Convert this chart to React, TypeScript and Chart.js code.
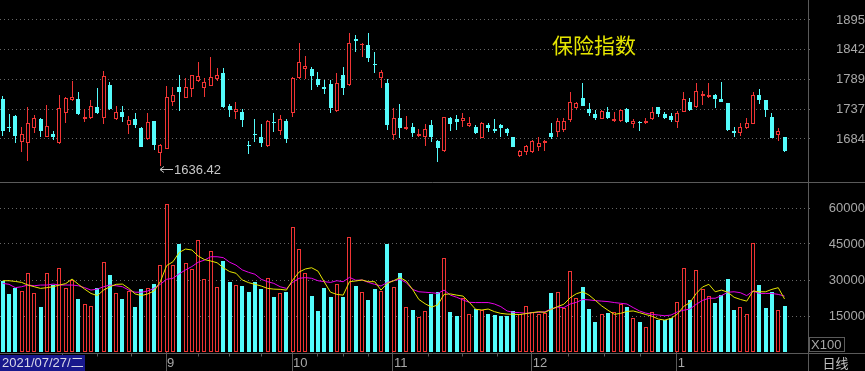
import React, { useEffect, useRef } from "react";
import { Chart, registerables } from "chart.js";

Chart.register(...registerables);

// ---------- data ----------
const TITLE = "保险指数";
const DATE_LABEL = "2021/07/27/二";
const PERIOD_LABEL = "日线";
const VOL_UNIT = "X100";

const OPEN = [
  1754.5, 1706.1, 1725.0, 1679.5, 1677.8, 1703.2, 1719.7, 1688.4, 1692.5, 1676.6,
  1729.7, 1753.4, 1754.5, 1720.3, 1720.9, 1740.4, 1720.9, 1779.9, 1719.7, 1732.7,
  1709.1, 1719.1, 1703.2, 1683.7, 1716.1, 1658.9, 1666.5, 1749.2, 1775.8, 1757.5,
  1772.2, 1787.6, 1775.2, 1778.7, 1790.5, 1801.8, 1743.3, 1732.1, 1732.1, 1673.6,
  1693.1, 1688.4, 1671.9, 1715.0, 1699.0, 1716.1, 1729.7, 1791.7, 1807.7, 1808.3,
  1790.0, 1775.8, 1781.7, 1734.5, 1797.6, 1779.9, 1860.8, 1850.7, 1850.8, 1817.1,
  1791.7, 1782.9, 1691.3, 1720.9, 1701.4, 1704.9, 1689.6, 1687.2, 1708.5, 1681.3,
  1663.0, 1721.5, 1719.1, 1716.1, 1707.3, 1706.1, 1686.6, 1709.1, 1701.4, 1709.1,
  1701.4, 1687.2, 1654.7, 1660.6, 1660.6, 1670.7, 1676.6, 1695.5, 1697.3, 1700.2,
  1717.9, 1738.6, 1756.3, 1737.4, 1728.0, 1719.7, 1732.7, 1715.6, 1715.6, 1737.4,
  1710.8, 1715.0, 1712.0, 1719.1, 1740.4, 1728.5, 1725.0, 1715.0, 1732.7, 1750.4,
  1740.4, 1760.5, 1758.1, 1762.2, 1755.1, 1748.0, 1698.4, 1694.3, 1703.2, 1710.8,
  1762.2, 1753.4, 1723.8, 1691.3, 1687.2,
];
const HIGH = [
  1760.4, 1728.0, 1726.8, 1706.1, 1740.4, 1726.8, 1720.9, 1744.5, 1698.4, 1762.2,
  1759.3, 1787.6, 1768.1, 1737.4, 1753.4, 1774.0, 1804.7, 1784.6, 1742.7, 1742.7,
  1725.0, 1729.7, 1704.9, 1729.7, 1716.7, 1675.4, 1778.2, 1775.8, 1797.6, 1791.7,
  1797.6, 1821.3, 1792.9, 1830.1, 1809.4, 1810.6, 1745.7, 1750.4, 1736.8, 1681.3,
  1719.7, 1710.2, 1717.9, 1729.7, 1726.8, 1719.1, 1793.5, 1853.7, 1831.9, 1812.4,
  1802.4, 1788.8, 1788.8, 1800.6, 1812.4, 1871.5, 1868.5, 1853.7, 1871.5, 1839.0,
  1806.5, 1790.5, 1738.6, 1746.3, 1725.0, 1712.0, 1701.4, 1710.2, 1717.9, 1682.5,
  1723.8, 1722.6, 1726.8, 1729.7, 1723.8, 1709.1, 1715.0, 1712.0, 1719.7, 1710.8,
  1703.2, 1688.4, 1664.8, 1673.6, 1682.5, 1687.2, 1682.5, 1712.0, 1722.1, 1720.9,
  1768.1, 1750.4, 1784.1, 1747.5, 1735.6, 1735.6, 1740.4, 1732.7, 1736.8, 1738.6,
  1719.1, 1716.7, 1720.9, 1740.4, 1741.5, 1732.7, 1730.9, 1733.9, 1768.1, 1756.3,
  1784.1, 1769.9, 1782.9, 1763.4, 1785.8, 1748.6, 1704.9, 1712.0, 1720.9, 1768.1,
  1772.2, 1753.8, 1729.7, 1704.3, 1688.4,
];
const LOW = [
  1689.6, 1697.3, 1676.6, 1661.8, 1645.3, 1694.3, 1688.4, 1687.5, 1682.5, 1675.4,
  1713.2, 1752.2, 1726.8, 1715.0, 1719.7, 1728.5, 1710.8, 1735.6, 1717.9, 1715.0,
  1693.1, 1703.2, 1669.5, 1682.5, 1664.8, 1636.42, 1666.0, 1742.7, 1734.5, 1756.3,
  1759.3, 1785.8, 1759.3, 1778.1, 1787.0, 1738.6, 1723.8, 1719.1, 1706.1, 1657.7,
  1679.5, 1670.7, 1670.7, 1697.3, 1691.3, 1677.8, 1723.8, 1790.5, 1790.0, 1771.1,
  1775.8, 1764.0, 1729.7, 1732.7, 1762.2, 1779.0, 1837.8, 1828.9, 1821.3, 1800.6,
  1774.0, 1700.2, 1682.5, 1685.4, 1700.2, 1688.4, 1687.2, 1672.5, 1679.5, 1644.1,
  1661.8, 1698.4, 1700.2, 1706.1, 1706.1, 1692.5, 1685.4, 1697.3, 1694.3, 1688.4,
  1689.6, 1670.1, 1653.0, 1656.0, 1660.0, 1663.6, 1663.6, 1683.7, 1687.2, 1697.3,
  1715.0, 1738.0, 1742.0, 1725.0, 1717.9, 1719.1, 1719.1, 1715.0, 1715.0, 1713.2,
  1703.2, 1699.0, 1710.8, 1717.9, 1722.6, 1719.7, 1715.0, 1703.2, 1731.5, 1734.5,
  1738.6, 1744.5, 1756.3, 1738.6, 1750.0, 1699.0, 1687.2, 1689.6, 1702.6, 1710.2,
  1745.7, 1723.8, 1685.4, 1681.3, 1661.8,
];
const CLOSE = [
  1699.0, 1703.7, 1690.2, 1692.5, 1712.0, 1722.1, 1699.0, 1707.9, 1687.2, 1738.6,
  1756.3, 1758.7, 1728.0, 1723.8, 1742.7, 1729.7, 1795.9, 1737.4, 1732.7, 1723.8,
  1717.9, 1708.5, 1670.7, 1713.8, 1673.6, 1673.6, 1758.1, 1762.2, 1768.1, 1775.8,
  1797.0, 1795.9, 1785.8, 1794.7, 1797.6, 1741.5, 1735.6, 1736.8, 1717.9, 1672.5,
  1690.8, 1677.8, 1715.6, 1713.2, 1719.7, 1683.7, 1792.9, 1820.1, 1814.2, 1795.9,
  1779.9, 1772.8, 1738.6, 1782.9, 1774.0, 1854.9, 1858.5, 1852.5, 1827.2, 1815.4,
  1803.5, 1709.1, 1720.9, 1703.2, 1706.1, 1694.3, 1693.1, 1702.6, 1688.4, 1667.8,
  1722.6, 1710.8, 1714.4, 1720.9, 1712.0, 1694.3, 1712.0, 1703.2, 1699.0, 1703.2,
  1694.3, 1670.7, 1663.6, 1672.5, 1680.7, 1677.8, 1681.3, 1687.2, 1716.1, 1716.7,
  1750.4, 1747.5, 1742.7, 1730.9, 1720.9, 1734.5, 1720.9, 1719.1, 1735.6, 1715.0,
  1716.1, 1712.0, 1716.7, 1732.7, 1728.5, 1720.9, 1717.9, 1730.9, 1754.5, 1735.6,
  1769.9, 1764.0, 1762.2, 1754.5, 1750.4, 1700.2, 1694.3, 1704.9, 1712.0, 1762.2,
  1753.4, 1735.6, 1686.6, 1699.0, 1663.0,
];
const VOLUME = [
  29600, 24000, 26500, 25400, 32900, 24400, 18900, 32900, 27900, 34900,
  26500, 30000, 22100, 19900, 19300, 26500, 37400, 32100, 24400, 22100,
  25400, 18900, 26100, 26500, 28200, 36200, 61500, 36200, 44900, 36900,
  34400, 46700, 30300, 42100, 27100, 37900, 29300, 27900, 27600, 24900,
  29000, 26200, 30700, 23100, 24400, 24900, 51900, 42900, 32800, 23500,
  17100, 26500, 23100, 28300, 23100, 47800, 27600, 25100, 21700, 26200,
  25400, 44900, 26900, 33100, 18700, 17500, 14700, 17100, 24000, 24900,
  39000, 16800, 15000, 22400, 15700, 17900, 17500, 15800, 15400, 15000,
  15000, 17100, 15700, 19300, 16500, 15800, 16100, 24400, 24900, 18200,
  33700, 22600, 26900, 17900, 12600, 15700, 16100, 16500, 19900, 18600,
  14300, 12600, 10600, 16500, 13300, 13300, 14300, 21000, 34900, 21700,
  34200, 26200, 23300, 20300, 23700, 30300, 17500, 18600, 15700, 45600,
  27900, 18500, 25100, 17500, 19300,
];
const MA5 = [
  29700, 29700, 29400, 29000, 27900, 27200, 26500, 26800, 27200, 27900,
  28500, 30400, 28200, 26200, 24400, 23500, 25800, 27200, 28200, 28300,
  26500, 24200, 23500, 24200, 25400, 29300, 36000, 37600, 41500, 42900,
  42500, 40000, 38500, 37900, 37200, 35100, 33500, 32800, 30000, 28900,
  28200, 27500, 26500, 26200, 26100, 25800, 30000, 33300, 34600, 35100,
  33700, 29200, 24900, 24000, 23700, 29300, 29600, 30000, 29300, 29300,
  25800, 28600, 29700, 31000, 29600, 26100, 21900, 20100, 18700, 19600,
  24000, 24200, 23700, 23300, 20700, 17800, 17500, 17900, 16800, 16100,
  15800, 15700, 15600, 16000, 16400, 16800, 16500, 17800, 18900, 19900,
  22600, 24300, 25100, 23700, 21500, 19200, 17400, 15700, 16100, 16900,
  17100, 16400, 15600, 14900, 13700, 13300, 14000, 15800, 19000, 20600,
  24400, 27100, 28200, 25100, 25800, 24900, 22800, 21900, 21200, 25400,
  25100, 25100, 26100, 26800, 22100,
];
const MA10 = [
  28600, 28200, 26800, 27200, 27900, 27600, 27900, 27900, 28300, 27900,
  27900, 27900, 27600, 26800, 25800, 26200, 27200, 27900, 27600, 27200,
  25800, 24900, 24900, 25400, 26500, 28200, 30300, 30700, 32600, 34200,
  35600, 37400, 38300, 39700, 39700, 39300, 37400, 36200, 34200, 33200,
  32400, 30300, 29300, 28600, 27200, 26500, 29000, 30700, 31000, 30700,
  29700, 29300, 29000, 29700, 29300, 31100, 29900, 30000, 29000, 28200,
  27500, 29000, 29700, 30300, 28900, 26100, 25100, 24900, 24700, 24400,
  25800, 23700, 22800, 21700, 20700, 20600, 20600, 20600, 20000, 18900,
  17100, 16500, 16400, 16100, 16400, 16500, 16800, 17900, 18700, 18500,
  20000, 20700, 21900, 21700, 21400, 21200, 21000, 20600, 20300, 20000,
  18500, 17100, 16200, 15700, 15400, 15100, 15400, 16700, 17400, 17900,
  19900, 21500, 22400, 22400, 23500, 24900, 25100, 24700, 23500, 25400,
  24400, 24400, 24400, 24000, 23300,
];

const PRICE_TICKS = [1684.3, 1737.0, 1789.7, 1842.4, 1895.1];
const PRICE_LABELS = ["1684", "1737", "1789", "1842", "1895"];
const VOL_TICKS = [15000, 30000, 45000, 60000];
const VOL_LABELS = ["15000", "30000", "45000", "60000"];
const MONTH_START = [25.9, 45.9, 61.9, 83.9, 106.9];
const MONTH_LABELS = ["9", "10", "11", "12", "1"];
const MINOR_TICKS = [9.4, 14.9, 20.4, 30.9, 35.9, 40.9, 49.9, 53.9, 57.9, 67.4, 72.9, 78.4, 89.65, 95.4, 101.15];

// ---------- style ----------
const RED = "#f03434";
const CYAN = "#54fcfc";
const YELLOW = "#e6e600";
const MAGENTA = "#e600e6";
const GRID = "#666666";
const FRAME = "#5a5a5a";
const AXIS_TEXT = "#a8a8a8";
const FONT = '"Liberation Sans", Arial, "Noto Sans CJK SC", sans-serif';
const CJK = '"Noto Sans CJK SC", "Liberation Sans", sans-serif';

const X_MIN = -0.428;
const X_MAX = 127.72;
const P_MIN = 1608.1;
const P_MAX = 1930.5;
const V_MAX = 70000;

// snap bar elements to whole pixels so 1px borders / wicks stay crisp
const snapPlugin = {
  id: "snapBars",
  beforeDatasetsDraw(chart: any) {
    chart.getSortedVisibleDatasetMetas().forEach((meta: any) => {
      if (meta.type !== "bar") return;
      meta.data.forEach((el: any) => {
        const w = el.width;
        el.x = Math.round(el.x - w / 2) + w / 2;
        el.y = Math.round(el.y);
        el.base = Math.round(el.base);
        if (Math.abs(el.base - el.y) < 1) el.y = el.base - 1;
      });
    });
  },
};

export default function App() {
  const priceRef = useRef<HTMLCanvasElement>(null);
  const volRef = useRef<HTMLCanvasElement>(null);

  useEffect(() => {
    document.body.style.margin = "0";
    document.body.style.background = "#000";
    const idx = OPEN.map((_, i) => i);
    const up = idx.map((i) => CLOSE[i] >= OPEN[i]);

    const lowIdx = LOW.indexOf(Math.min(...LOW));

    const pricePlugin = {
      id: "priceDecor",
      afterDraw(chart: any) {
        const { ctx } = chart;
        const xs = chart.scales.x;
        const ys = chart.scales.y;
        ctx.save();
        ctx.fillStyle = YELLOW;
        ctx.font = "21px " + CJK;
        ctx.textAlign = "left";
        ctx.textBaseline = "middle";
        ctx.fillText(TITLE, 552, 45);
        // lowest point marker: arrow + value
        const lx = Math.round(xs.getPixelForValue(lowIdx));
        const ly = Math.round(ys.getPixelForValue(LOW[lowIdx])) + 3.5;
        ctx.strokeStyle = "#c8c8c8";
        ctx.lineWidth = 1;
        ctx.beginPath();
        ctx.moveTo(lx, ly);
        ctx.lineTo(lx + 13, ly);
        ctx.moveTo(lx + 4, ly - 3);
        ctx.lineTo(lx, ly);
        ctx.lineTo(lx + 4, ly + 3);
        ctx.stroke();
        ctx.fillStyle = "#c8c8c8";
        ctx.font = "13px " + FONT;
        ctx.fillText(LOW[lowIdx].toFixed(2), lx + 14, ly + 0.5);
        ctx.restore();
      },
    };

    const pc = new Chart(priceRef.current as HTMLCanvasElement, {
      type: "bar",
      data: {
        datasets: [
          {
            label: "body",
            data: idx.map((i) => ({ x: i, y: [Math.min(OPEN[i], CLOSE[i]), Math.max(OPEN[i], CLOSE[i])] })) as any,
            backgroundColor: idx.map((i) => (up[i] ? "#000000" : CYAN)),
            borderColor: idx.map((i) => (up[i] ? RED : CYAN)),
            borderWidth: idx.map((i) => (up[i] ? 1 : 0)),
            borderSkipped: false,
            barThickness: 4,
            grouped: false,
            inflateAmount: 0,
            order: 1,
          } as any,
          {
            label: "wick",
            data: idx.map((i) => ({ x: i, y: [LOW[i], HIGH[i]] })) as any,
            backgroundColor: idx.map((i) => (up[i] ? RED : CYAN)),
            borderWidth: 0,
            barThickness: 1,
            grouped: false,
            inflateAmount: 0,
            order: 2,
          } as any,
        ],
      },
      options: {
        animation: false,
        responsive: false,
        maintainAspectRatio: false,
        events: [],
        layout: { padding: 0 },
        plugins: { legend: { display: false }, tooltip: { enabled: false }, title: { display: false } },
        scales: {
          x: { type: "linear", min: X_MIN, max: X_MAX, display: false, offset: false, grid: { offset: false } },
          y: {
            type: "linear",
            position: "right",
            min: P_MIN,
            max: P_MAX,
            afterBuildTicks: (s: any) => {
              s.ticks = PRICE_TICKS.map((v) => ({ value: v }));
            },
            afterFit: (s: any) => {
              s.width = 57;
              s.paddingTop = 0;
              s.paddingBottom = 0;
            },
            ticks: {
              autoSkip: false,
              callback: (_v: any, i: number) => PRICE_LABELS[i],
              color: AXIS_TEXT,
              font: { family: FONT, size: 13 },
              padding: 15,
              crossAlign: "far",
            },
            grid: { color: GRID, lineWidth: 1, drawTicks: true, tickLength: 5, tickColor: GRID, tickBorderDash: [1, 3], borderDash: [1, 3] },
            border: { display: true, color: FRAME, width: 1, dash: [1, 3] },
          } as any,
        },
      } as any,
      plugins: [snapPlugin, pricePlugin],
    });

    const volPlugin = {
      id: "volDecor",
      afterDraw(chart: any) {
        const { ctx, chartArea } = chart;
        const W = chart.width;
        const H = chart.height;
        const xs = chart.scales.x;
        ctx.save();
        ctx.strokeStyle = FRAME;
        ctx.lineWidth = 1;
        const line = (x1: number, y1: number, x2: number, y2: number) => {
          ctx.beginPath();
          ctx.moveTo(x1, y1);
          ctx.lineTo(x2, y2);
          ctx.stroke();
        };
        line(0, 0.5, W, 0.5);
        const sy = Math.round(chartArea.bottom) + 1.5;
        line(0, sy, W, sy);
        const ax = Math.round(chartArea.right) + 0.5;
        line(ax, 0, ax, H);
        MINOR_TICKS.forEach((v) => {
          const x = Math.round(xs.getPixelForValue(v)) + 0.5;
          line(x, sy, x, sy + 3);
        });
        // unit box
        ctx.strokeRect(ax + 1, Math.round(chartArea.bottom) - 14.5, 35, 14);
        ctx.fillStyle = AXIS_TEXT;
        ctx.font = "13px " + FONT;
        ctx.textAlign = "left";
        ctx.textBaseline = "middle";
        ctx.fillText(VOL_UNIT, ax + 2.5, Math.round(chartArea.bottom) - 7);
        // period label
        ctx.fillStyle = "#c0c0c0";
        ctx.font = "13px " + CJK;
        ctx.fillText(PERIOD_LABEL, ax + 14, (sy + H) / 2 + 1);
        // date box
        ctx.fillStyle = "#18188c";
        ctx.fillRect(0, sy + 1.5, 85, H - sy);
        ctx.fillStyle = "#d8d8e8";
        ctx.font = "13px " + FONT;
        ctx.fillText(DATE_LABEL, 2, (sy + H) / 2 + 1.5);
        ctx.restore();
      },
    };

    const vc = new Chart(volRef.current as HTMLCanvasElement, {
      type: "bar",
      data: {
        datasets: [
          {
            type: "line",
            label: "MA5",
            data: idx.map((i) => ({ x: i, y: MA5[i] })),
            borderColor: YELLOW,
            borderWidth: 1,
            pointRadius: 0,
            tension: 0,
            order: 0,
          } as any,
          {
            type: "line",
            label: "MA10",
            data: idx.map((i) => ({ x: i, y: MA10[i] })),
            borderColor: MAGENTA,
            borderWidth: 1,
            pointRadius: 0,
            tension: 0,
            order: 0,
          } as any,
          {
            type: "bar",
            label: "VOL",
            data: idx.map((i) => ({ x: i, y: VOLUME[i] })),
            backgroundColor: idx.map((i) => (up[i] ? "#000000" : CYAN)),
            borderColor: idx.map((i) => (up[i] ? RED : CYAN)),
            borderWidth: idx.map((i) => (up[i] ? 1 : 0)),
            borderSkipped: false,
            barThickness: 4,
            grouped: false,
            inflateAmount: 0,
            order: 1,
          } as any,
        ],
      },
      options: {
        animation: false,
        responsive: false,
        maintainAspectRatio: false,
        events: [],
        layout: { padding: { top: 2, left: 0, right: 0, bottom: 0 } },
        plugins: { legend: { display: false }, tooltip: { enabled: false }, title: { display: false } },
        scales: {
          x: {
            type: "linear",
            position: "bottom",
            min: X_MIN,
            max: X_MAX,
            offset: false,
            afterBuildTicks: (s: any) => {
              s.ticks = MONTH_START.map((v) => ({ value: v }));
            },
            afterFit: (s: any) => {
              s.height = 19;
              s.paddingLeft = 0;
              s.paddingRight = 0;
            },
            ticks: {
              autoSkip: false,
              maxRotation: 0,
              minRotation: 0,
              align: "start",
              labelOffset: 1,
              padding: -15,
              callback: (_v: any, i: number) => MONTH_LABELS[i],
              color: AXIS_TEXT,
              font: { family: FONT, size: 13 },
            },
            grid: { offset: false, drawOnChartArea: false, drawTicks: true, tickLength: 19, color: FRAME, tickColor: FRAME },
            border: { display: false },
          } as any,
          y: {
            type: "linear",
            position: "right",
            min: 0,
            max: V_MAX,
            afterBuildTicks: (s: any) => {
              s.ticks = VOL_TICKS.map((v) => ({ value: v }));
            },
            afterFit: (s: any) => {
              s.width = 57;
              s.paddingTop = 0;
              s.paddingBottom = 0;
            },
            ticks: {
              autoSkip: false,
              callback: (_v: any, i: number) => VOL_LABELS[i],
              color: AXIS_TEXT,
              font: { family: FONT, size: 13 },
              padding: 8,
              crossAlign: "far",
            },
            grid: { color: GRID, lineWidth: 1, drawTicks: true, tickLength: 5, tickColor: GRID, tickBorderDash: [1, 3], borderDash: [1, 3] },
            border: { display: true, color: FRAME, width: 1, dash: [1, 3] },
          } as any,
        },
      } as any,
      plugins: [snapPlugin, volPlugin],
    });

    return () => {
      pc.destroy();
      vc.destroy();
    };
  }, []);

  return (
    <div style={{ position: "fixed", left: 0, top: 0, width: 865, height: 371, background: "#000", overflow: "hidden" }}>
      <canvas ref={priceRef} width={865} height={182} style={{ position: "absolute", left: 0, top: 0, width: 865, height: 182 }} />
      <canvas ref={volRef} width={865} height={189} style={{ position: "absolute", left: 0, top: 182, width: 865, height: 189 }} />
    </div>
  );
}
